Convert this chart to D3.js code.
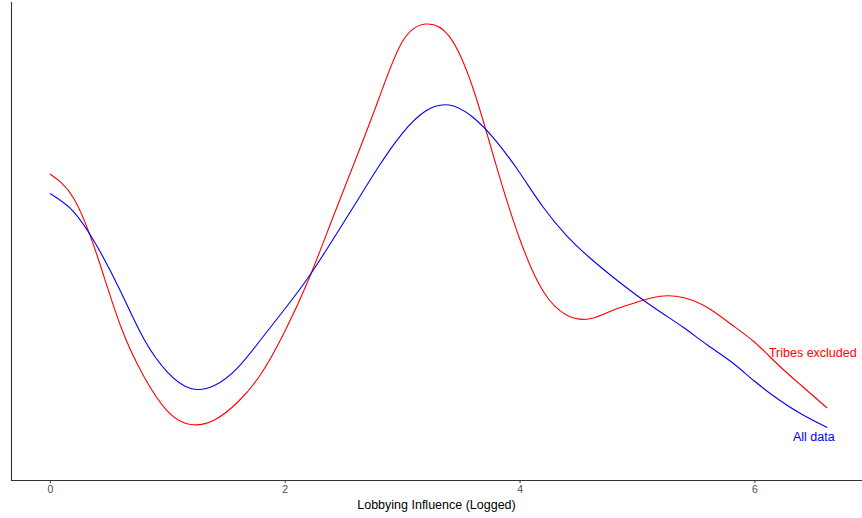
<!DOCTYPE html>
<html>
<head>
<meta charset="utf-8">
<script src="https://cdn.jsdelivr.net/npm/d3@7"></script>
<style>
  html, body { margin: 0; padding: 0; background: #fff; }
  svg { display: block; font-family: "Liberation Sans", Arial, sans-serif; }
</style>
</head>
<body>
<svg id="chart" width="862" height="518"></svg>
<script>
// ---- data ----
const xGrid = [0, 0.2, 0.4, 0.6, 0.8, 1.0, 1.2, 1.4, 1.6, 1.8, 2.0, 2.2, 2.4, 2.6, 2.8, 3.0, 3.2, 3.4,
               3.6, 3.8, 4.0, 4.2, 4.4, 4.6, 4.8, 5.0, 5.2, 5.4, 5.6, 5.8, 6.0, 6.2, 6.4, 6.62];
const tribesExcluded = [0.204, 0.188, 0.150, 0.103, 0.069, 0.046, 0.037, 0.040, 0.052, 0.071, 0.099, 0.133,
                        0.173, 0.213, 0.254, 0.292, 0.304, 0.296, 0.262, 0.210, 0.161, 0.126, 0.110, 0.1075,
                        0.1133, 0.1186, 0.1225, 0.1215, 0.115, 0.104, 0.092, 0.077, 0.063, 0.048];
const allData = [0.191, 0.179, 0.156, 0.126, 0.094, 0.072, 0.061, 0.063, 0.075, 0.094, 0.114, 0.135,
                 0.159, 0.184, 0.209, 0.231, 0.246, 0.250, 0.242, 0.226, 0.205, 0.182, 0.163, 0.148,
                 0.135, 0.123, 0.112, 0.1015, 0.090, 0.079, 0.066, 0.054, 0.044, 0.035];
const seriesNames = ["Tribes excluded", "All data"];
const xTicks = [0, 2, 4, 6];
const xTitle = "Lobbying Influence (Logged)";

// ---- layout ----
const svg = d3.select("#chart");
const mLeft = 11, mRight = 862, mTop = 2, mBottom = 480;
const x = d3.scaleLinear().domain([-0.332, 6.917]).range([mLeft, mRight]);
const y = d3.scaleLinear().domain([0, 0.3187]).range([mBottom, mTop]);

const series = [
  { name: seriesNames[0], values: tribesExcluded, color: "#ff0000", label: [6.124, 0.0847] },
  { name: seriesNames[1], values: allData, color: "#0000ff", label: [6.329, 0.0287] }
];

const line = d3.line()
  .x(d => x(d[0]))
  .y(d => y(d[1]))
  .curve(d3.curveNatural);

series.forEach(s => {
  const pts = xGrid.map((xv, i) => [xv, s.values[i]]);
  svg.append("path")
    .attr("d", line(pts))
    .attr("fill", "none")
    .attr("stroke", s.color)
    .attr("stroke-width", 1.1);
  svg.append("text")
    .attr("x", x(s.label[0]))
    .attr("y", y(s.label[1]))
    .attr("dy", "0.35em")
    .attr("fill", s.color)
    .attr("font-size", "12.5px")
    .text(s.name);
});

// x axis
const xAxis = d3.axisBottom(x).tickValues(xTicks).tickSize(3).tickPadding(3).tickFormat(d3.format("d"));
const gx = svg.append("g").attr("transform", `translate(0,${mBottom})`).call(xAxis);
gx.select(".domain").remove();
gx.selectAll(".tick line").attr("stroke", "#333").attr("stroke-width", 1);
gx.selectAll(".tick text").attr("fill", "#4d4d4d").attr("font-size", "10.5px")
  .attr("font-family", "Liberation Sans, Arial, sans-serif");

// axis lines
svg.append("line").attr("x1", mLeft).attr("x2", mRight).attr("y1", mBottom + 0.5).attr("y2", mBottom + 0.5)
  .attr("stroke", "#333").attr("stroke-width", 1.1);
svg.append("line").attr("x1", mLeft + 0.5).attr("x2", mLeft + 0.5).attr("y1", mTop).attr("y2", mBottom + 1)
  .attr("stroke", "#333").attr("stroke-width", 1.1);

// x title
svg.append("text")
  .attr("x", (mLeft + mRight) / 2)
  .attr("y", 505)
  .attr("dy", "0.35em")
  .attr("text-anchor", "middle")
  .attr("fill", "#000")
  .attr("font-size", "12.5px")
  .text(xTitle);
</script>
</body>
</html>
